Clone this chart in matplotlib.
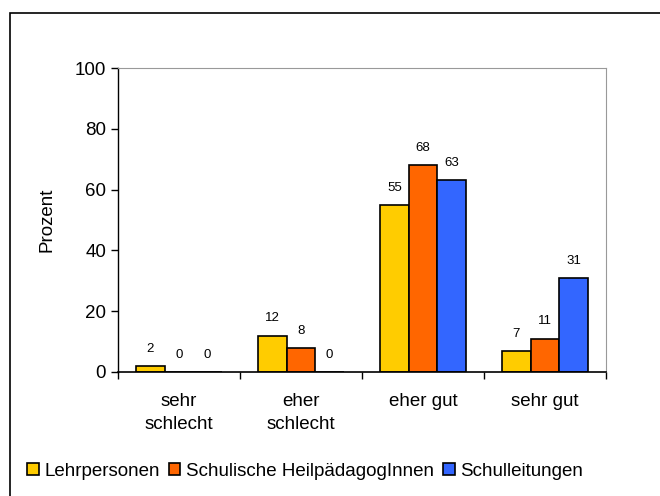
import matplotlib.pyplot as plt
import matplotlib.patches as mpatches
import numpy as np

plt.rcParams['font.family'] = ['Liberation Sans', 'DejaVu Sans']

categories = ['sehr\nschlecht', 'eher\nschlecht', 'eher gut', 'sehr gut']
lehrpersonen = [2, 12, 55, 7]
heilpaedagogen = [0, 8, 68, 11]
schulleitungen = [0, 0, 63, 31]
series_names = ['Lehrpersonen', 'Schulische HeilpädagogInnen', 'Schulleitungen']
colors = ['#FFCC00', '#FF6600', '#3366FF']

fig = plt.figure(figsize=(6.6, 4.96), dpi=100)
ax = fig.add_axes([0.1788, 0.25, 0.7394, 0.6129])

x = np.arange(len(categories))
w = 0.235
for i, (vals, name, c) in enumerate(zip([lehrpersonen, heilpaedagogen, schulleitungen], series_names, colors)):
    pos = x + (i - 1) * w
    ax.bar(pos, vals, w, color=c, edgecolor='black', linewidth=1.2, label=name)
    for p, v in zip(pos, vals):
        ax.annotate(str(v), (p, v), xytext=(0, 8), textcoords='offset points',
                    ha='center', va='bottom', fontsize=9.5)

ax.set_xlim(-0.5, 3.5)
ax.set_ylim(0, 100)
ax.set_yticks(range(0, 101, 20))
ax.tick_params(axis='y', labelsize=13.5, direction='out', length=5, width=1)
ax.set_xticks([-0.5, 0.5, 1.5, 2.5, 3.5])
ax.set_xticklabels([])
ax.tick_params(axis='x', direction='out', length=5, width=1)
for xi, cat in zip(x, categories):
    ax.text(xi, -7, cat, ha='center', va='top', fontsize=13.5, linespacing=1.45)
ax.set_ylabel('Prozent', fontsize=13.5, labelpad=14)

ax.spines['top'].set_color('#999999')
ax.spines['right'].set_color('#999999')
ax.spines['left'].set_linewidth(1)
ax.spines['bottom'].set_linewidth(1.2)

handles = [mpatches.Patch(facecolor=c, edgecolor='black', linewidth=1.2) for c in colors]
fig.legend(handles, series_names, loc='center left', bbox_to_anchor=(0.03, 0.05),
           ncol=3, frameon=False, fontsize=13.5, handlelength=0.6, handleheight=0.6,
           handletextpad=0.3, columnspacing=0.5, borderaxespad=0)

fig.patches.append(mpatches.Rectangle((10 / 660, -0.1), 1.2, 1 - 13 / 496 + 0.1,
                                      transform=fig.transFigure, fill=False,
                                      edgecolor='black', linewidth=1.2))

fig.savefig('out.png', dpi=100)
